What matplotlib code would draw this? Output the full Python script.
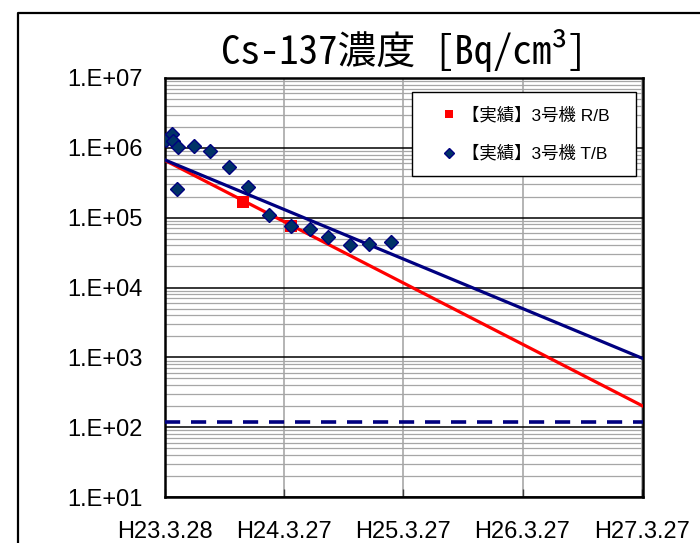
import numpy as np
import matplotlib
matplotlib.use("Agg")
import matplotlib.pyplot as plt
from matplotlib.lines import Line2D
from matplotlib.patches import Rectangle

plt.rcParams['font.family'] = ['Liberation Sans', 'Noto Sans CJK JP', 'DejaVu Sans']

# x axis: dates (H23.3.28 = 2011-03-28)
tick_dates = ['2011-03-28', '2012-03-27', '2013-03-27', '2014-03-27', '2015-03-27']
tick_labels = ['H23.3.28', 'H24.3.27', 'H25.3.27', 'H26.3.27', 'H27.3.27']
x_end = '2015-03-31'

y_ticks = [1e1, 1e2, 1e3, 1e4, 1e5, 1e6, 1e7]
y_labels = ['1.E+01', '1.E+02', '1.E+03', '1.E+04', '1.E+05', '1.E+06', '1.E+07']

# 【実績】3号機 T/B
tb_dates = ['2011-03-30', '2011-04-19', '2011-04-22', '2011-05-05', '2011-05-08',
            '2011-06-25', '2011-08-12', '2011-10-10', '2011-12-07', '2012-02-08',
            '2012-04-18', '2012-06-14', '2012-08-07', '2012-10-16', '2012-12-11',
            '2013-02-17']
tb_vals = [1.3e6, 1.58e6, 1.27e6, 2.6e5, 1.02e6,
           1.07e6, 9.1e5, 5.4e5, 2.76e5, 1.11e5,
           7.7e4, 6.9e4, 5.25e4, 4.1e4, 4.2e4,
           4.5e4]

# 【実績】3号機 R/B
rb_dates = ['2011-11-23', '2012-04-18']
rb_vals = [1.7e5, 7.5e4]

# trend lines (exponential, straight on log axis)
trend_dates = ['2011-03-28', '2015-03-31']
trend_rb = [6.6e5, 2.0e2]
trend_tb = [6.7e5, 9.6e2]

limit_val = 120

to_d = lambda d: np.array(d, dtype='datetime64[D]')

fig = plt.figure(figsize=(7, 5.43), dpi=100)
ax = fig.add_axes([165 / 700, 1 - 497 / 543, 478 / 700, 419 / 543])

ax.plot(to_d(trend_dates), trend_rb, color='#ff0000', lw=2.3, zorder=3)
ax.plot(to_d(trend_dates), trend_tb, color='#000080', lw=2.3, zorder=3)
ax.axhline(limit_val, color='#000080', lw=2.6, dashes=(4.2, 3.0), zorder=3)

h_rb, = ax.plot(to_d(rb_dates), rb_vals, 's', ms=8.8, color='#ff0000', mew=0,
                label='【実績】3号機 R/B', zorder=4)
h_tb, = ax.plot(to_d(tb_dates), tb_vals, 'D', ms=7.0, mfc='#003366', mec='#000080',
                mew=1, label='【実績】3号機 T/B', zorder=5)

ax.set_yscale('log')
ax.set_ylim(1e1, 1e7)
ax.set_xlim(to_d([tick_dates[0]])[0], to_d([x_end])[0])
ax.set_yticks(y_ticks, y_labels)
ax.set_xticks(to_d(tick_dates), tick_labels)

ax.set_axisbelow(True)
ax.grid(which='major', axis='y', color='black', lw=1.1)
ax.grid(which='minor', axis='y', color='#a6a6a6', lw=0.9)
ax.grid(which='major', axis='x', color='#a0a0a0', lw=1.1)

ax.tick_params(axis='y', which='both', length=0, pad=16, labelsize=17)
ax.tick_params(axis='x', direction='in', length=6, width=1, color='#404040', pad=17, labelsize=17)
for s in ax.spines.values():
    s.set_linewidth(1.8)
    s.set_color('black')

ax.set_title('Cs-137濃度 [Bq/cm³]',
             fontfamily=['Noto Sans Mono CJK JP', 'Noto Sans CJK JP', 'DejaVu Sans'],
             fontsize=28, pad=10)

# legend box
box = Rectangle((0.517, 0.766), 0.468, 0.2, transform=ax.transAxes,
                facecolor='white', edgecolor='black', lw=1.0, zorder=6)
ax.add_patch(box)
leg = ax.legend(handles=[h_rb, h_tb], loc='center left', bbox_to_anchor=(0.577, 0.866),
                frameon=False, fontsize=12.5, handlelength=1.0, handletextpad=0.2,
                labelspacing=1.25, borderpad=0, borderaxespad=0, markerscale=0.7)
leg.set_zorder(7)

# chart area border
fig.add_artist(Line2D([18 / 700, 18 / 700, 1], [0, 1 - 12.5 / 543, 1 - 12.5 / 543],
                      transform=fig.transFigure, color='black', lw=1.6))

fig.savefig('out.png', dpi=100, facecolor='white')
